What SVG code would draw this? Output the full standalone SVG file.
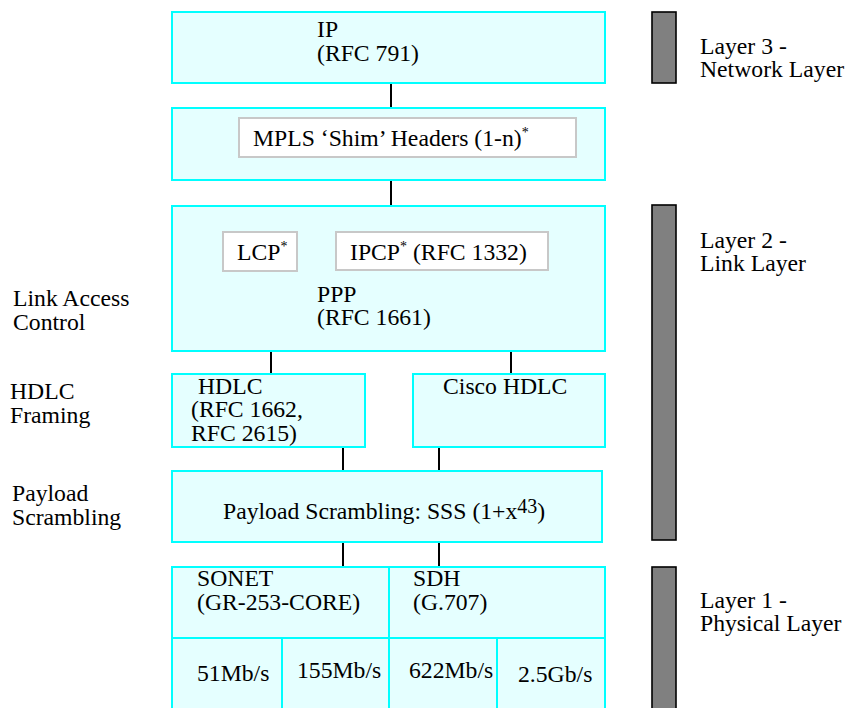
<svg xmlns="http://www.w3.org/2000/svg" width="848" height="708" viewBox="0 0 848 708" font-family="'Liberation Serif', 'Times New Roman', 'DejaVu Serif', serif">
<style>
text{font-family:'Liberation Serif','Times New Roman','DejaVu Serif',serif;font-size:23.7px;fill:#000}
.box{fill:#E5FFFF;stroke:#00FFFF;stroke-width:2}
.inner{fill:#FFFFFF;stroke:#C8C8C8;stroke-width:2}
.bar{fill:#808080;stroke:#000;stroke-width:1.6}
.conn{stroke:#000;stroke-width:2;fill:none}
.sup{font-size:14px}
.sup2{font-size:20px}
</style>
<rect width="848" height="708" fill="#fff"/>
<g id="connectors">
<line class="conn" x1="391" y1="83" x2="391" y2="108"/>
<line class="conn" x1="391" y1="180" x2="391" y2="206"/>
<line class="conn" x1="271" y1="351" x2="271" y2="374"/>
<line class="conn" x1="511" y1="351" x2="511" y2="374"/>
<line class="conn" x1="343" y1="447" x2="343" y2="471"/>
<line class="conn" x1="439" y1="447" x2="439" y2="471"/>
<line class="conn" x1="343" y1="542" x2="343" y2="567"/>
<line class="conn" x1="439" y1="542" x2="439" y2="567"/>
</g>
<g id="ip">
<rect class="box" x="172" y="12" width="433" height="71"/>
<text x="317" y="37">IP<tspan x="317" dy="24">(RFC 791)</tspan></text>
</g>
<g id="mpls">
<rect class="box" x="172" y="108" width="433" height="72"/>
<rect class="inner" x="239" y="118" width="337" height="39"/>
<text x="253" y="146">MPLS ‘Shim’ Headers (1-n)<tspan class="sup" dy="-9">*</tspan></text>
</g>
<g id="ppp">
<rect class="box" x="172" y="206" width="433" height="145"/>
<rect class="inner" x="223" y="232" width="74" height="39"/>
<text x="237" y="260">LCP<tspan class="sup" dy="-9">*</tspan></text>
<rect class="inner" x="336" y="232" width="212" height="38"/>
<text x="350" y="260">IPCP<tspan class="sup" dy="-9">*</tspan><tspan dy="9"> (RFC 1332)</tspan></text>
<text x="317" y="302">PPP<tspan x="317" dy="23">(RFC 1661)</tspan></text>
</g>
<g id="hdlc">
<rect class="box" x="172" y="374" width="193" height="73"/>
<text x="198" y="394">HDLC<tspan x="191" dy="23">(RFC 1662,</tspan><tspan x="191" dy="24">RFC 2615)</tspan></text>
</g>
<g id="cisco-hdlc">
<rect class="box" x="413" y="374" width="192" height="73"/>
<text x="443" y="394">Cisco HDLC</text>
</g>
<g id="scrambling">
<rect class="box" x="172" y="471" width="430" height="71"/>
<text x="223" y="519">Payload Scrambling: SSS (1+x<tspan class="sup2" dy="-6">43</tspan><tspan dy="6">)</tspan></text>
</g>
<g id="sonet">
<rect class="box" x="172" y="567" width="217" height="71"/>
<text x="197" y="586">SONET<tspan x="197" dy="24">(GR-253-CORE)</tspan></text>
</g>
<g id="sdh">
<rect class="box" x="389" y="567" width="216" height="71"/>
<text x="413" y="586">SDH<tspan x="413" dy="24">(G.707)</tspan></text>
</g>
<g id="rate-51">
<rect class="box" x="172" y="638" width="110" height="76"/>
<text x="197" y="681">51Mb/s</text>
</g>
<g id="rate-155">
<rect class="box" x="282" y="638" width="107" height="76"/>
<text x="297" y="678">155Mb/s</text>
</g>
<g id="rate-622">
<rect class="box" x="389" y="638" width="108" height="76"/>
<text x="409" y="678">622Mb/s</text>
</g>
<g id="rate-2-5">
<rect class="box" x="497" y="638" width="108" height="76"/>
<text x="518" y="682">2.5Gb/s</text>
</g>
<g id="label-lac">
<text x="13" y="306">Link Access<tspan x="13" dy="24">Control</tspan></text>
</g>
<g id="label-hdlc-framing">
<text x="10" y="399">HDLC<tspan x="10" dy="24">Framing</tspan></text>
</g>
<g id="label-payload">
<text x="12" y="501">Payload<tspan x="12" dy="24">Scrambling</tspan></text>
</g>
<g id="layer3">
<rect class="bar" x="652" y="12" width="24" height="71"/>
<text x="700" y="54">Layer 3 -<tspan x="700" dy="23">Network Layer</tspan></text>
</g>
<g id="layer2">
<rect class="bar" x="652" y="205" width="24" height="335"/>
<text x="700" y="248">Layer 2 -<tspan x="700" dy="23">Link Layer</tspan></text>
</g>
<g id="layer1">
<rect class="bar" x="652" y="567" width="24" height="150"/>
<text x="700" y="608">Layer 1 -<tspan x="700" dy="23">Physical Layer</tspan></text>
</g>
</svg>
